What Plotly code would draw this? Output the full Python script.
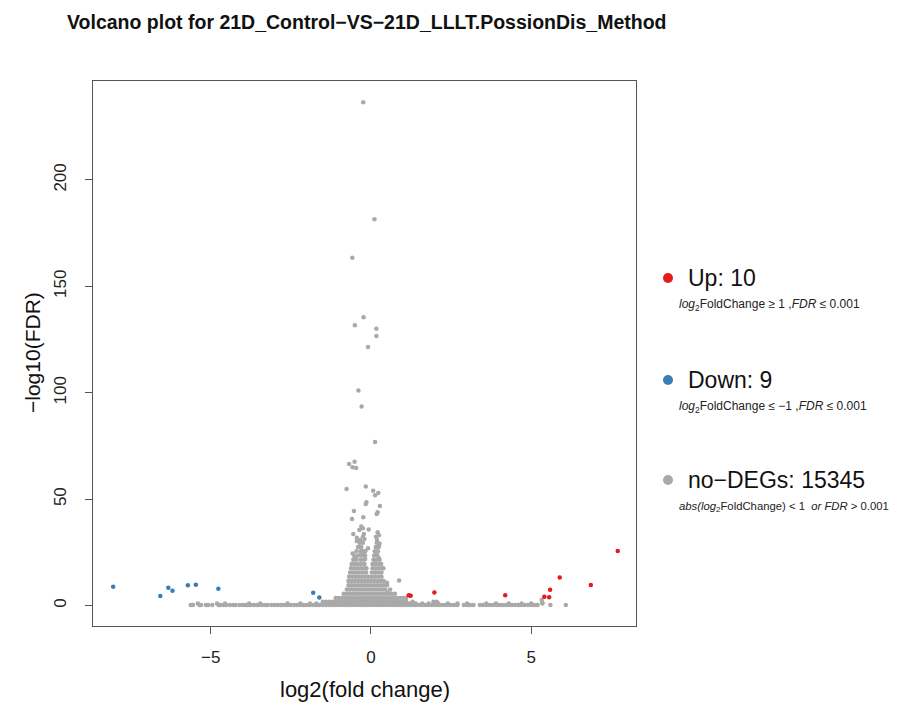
import plotly.graph_objects as go

# ---------------- data ----------------
up_x = [1.18, 1.24, 1.98, 4.19, 5.41, 5.56, 5.59, 5.89, 6.86, 7.70]
up_y = [4.8, 4.6, 6.1, 4.8, 4.2, 3.9, 7.4, 13.2, 9.7, 25.7]

down_x = [-8.04, -6.57, -6.32, -6.19, -5.71, -5.46, -4.76, -1.80, -1.61]
down_y = [8.8, 4.5, 8.4, 7.0, 9.5, 9.8, 7.9, 6.0, 3.8]

# isolated (readable) non-DEG points
ns_out_x = [-0.24, 0.11, -0.58, -0.23, -0.50, 0.17, 0.17, -0.09, -0.39, -0.29, 0.13,
            -0.51, -0.68, -0.57, -0.46, -0.76, -0.16, 0.07, 0.23, 0.13, -0.14, -0.16,
            0.28, -0.53, 0.21, 0.18, -0.59, -0.24, -0.30, -0.25, -0.36, -0.07,
            -0.55, -0.22, -0.44, -0.25, 0.21, 0.25, 0.16, -0.44, -0.33, -0.20, 0.19,
            0.27, 0.25, 0.17, -0.36, -0.17, -0.28, -0.09, -0.57, -0.50, -0.33, -0.22,
            -0.18, 0.17, 0.25, 0.13, 0.39, 0.88, 0.52, 0.50, 5.33, 5.35, 5.60, 6.08]
ns_out_y = [236.5, 181.5, 163.5, 135.5, 131.7, 130.1, 126.7, 121.5, 101.1, 93.6, 76.9,
            67.6, 66.5, 65.0, 64.6, 54.8, 56.0, 54.0, 52.9, 51.8, 48.5, 47.7,
            46.8, 44.4, 43.8, 43.0, 40.7, 41.5, 37.2, 36.3, 35.5, 35.8,
            33.6, 33.6, 31.9, 32.3, 34.4, 33.1, 32.3, 30.3, 30.8, 31.3, 30.8,
            29.2, 28.1, 27.4, 27.6, 25.6, 25.6, 26.9, 24.5, 22.7, 23.7, 23.9,
            21.9, 24.5, 22.2, 21.4, 17.5, 11.8, 6.0, 10.7, 2.6, 1.2, 0.3, 0.3]

# dense non-DEG band near the baseline (x positions per level of -log10(FDR))
ns_row_0_3 = [-5.62, -5.55, -5.35, -5.30, -5.15, -5.08, -4.95, -4.75, -4.70, -4.60,
              -4.52, -4.40, -4.30, -4.22, -4.10, -4.00, -3.92, -3.85, -3.75, -3.65,
              -3.55, -3.50, -3.40, -3.30, -3.22, -3.10, -3.00, -2.90, -2.80, -2.70,
              -2.60, -2.50, -2.40, -2.30, -2.20, -2.10, -2.00, -1.90, -1.80, -1.70,
              -1.60, -1.50, -1.40, -1.30, -1.20, -1.10, -1.00, -0.90, -0.80, -0.70,
              -0.60, -0.50, -0.40, -0.30, -0.20, -0.10, 0.00, 0.10, 0.20, 0.30,
              0.40, 0.50, 0.60, 0.70, 0.80, 0.90, 1.00, 1.10, 1.20, 1.30, 1.40,
              1.50, 1.60, 1.70, 1.80, 1.90, 2.00, 2.10, 2.20, 2.30, 2.40, 2.50,
              2.60, 2.70, 2.90, 3.00, 3.10, 3.20, 3.40, 3.50, 3.60, 3.70, 3.80,
              3.90, 4.00, 4.10, 4.20, 4.30, 4.40, 4.50, 4.60, 4.70, 4.80, 4.90,
              5.00, 5.10, 5.20]
ns_row_1_0 = [-5.40, -4.80, -4.55, -3.80, -3.45, -2.60, -2.20, -1.90, -1.70, -1.50,
              -1.35, -1.20, -1.05, 1.00, 1.20, 1.40, 1.60, 1.80, 2.00, 2.10, 2.40,
              2.70, 3.00, 3.60, 3.90, 4.30, 4.70, 5.00, 5.35]
ns_row_1_8 = [-1.50, -1.40, -1.30, -1.20, -1.10, -1.00, -0.90, -0.80, -0.70, -0.60,
              -0.50, -0.40, -0.30, -0.20, -0.10, 0.00, 0.10, 0.20, 0.30, 0.40, 0.50,
              0.60, 0.70, 0.80, 0.90, 1.00, 1.10, 1.30, 1.95, 2.05]
ns_row_3_5 = [-1.10, -1.00, -0.90, -0.80, -0.70, -0.60, -0.50, -0.40, -0.30, -0.20,
              -0.10, 0.00, 0.10, 0.20, 0.30, 0.40, 0.50, 0.60, 0.70, 0.80, 0.90,
              1.00, 1.10]
ns_row_5_5 = [-0.85, -0.75, -0.65, -0.55, -0.45, -0.35, -0.25, -0.15, -0.05, 0.05,
              0.15, 0.25, 0.35, 0.45, 0.55, 0.65, 0.75]
ns_row_7_5 = [-0.75, -0.65, -0.55, -0.45, -0.35, -0.25, -0.15, -0.05, 0.05, 0.15,
              0.25, 0.35, 0.45, 0.60]
ns_row_9_5 = [-0.70, -0.60, -0.50, -0.40, -0.30, -0.20, -0.10, 0.00, 0.10, 0.20,
              0.30, 0.40, 0.50]
ns_row_11_5 = [-0.70, -0.60, -0.50, -0.40, -0.30, -0.20, -0.10, 0.00, 0.10, 0.20,
               0.30, 0.40]
ns_row_13_5 = [-0.68, -0.58, -0.48, -0.38, -0.28, -0.18, -0.08, 0.03, 0.13, 0.23, 0.33]
ns_row_15_5 = [-0.65, -0.55, -0.45, -0.35, -0.25, -0.15, 0.03, 0.13, 0.23, 0.33]
ns_row_17_5 = [-0.62, -0.52, -0.42, -0.32, -0.22, -0.14, 0.05, 0.15, 0.25, 0.35]
ns_row_19_5 = [-0.60, -0.50, -0.40, -0.30, -0.20, 0.05, 0.15, 0.25, 0.32]
ns_row_21_5 = [-0.55, -0.45, -0.32, -0.22, 0.08, 0.18, 0.27]
ns_row_23_5 = [-0.52, -0.40, -0.28, -0.18, 0.10, 0.20]
ns_row_25_5 = [-0.45, -0.32, -0.20, 0.12, 0.22]
ns_row_27_5 = [-0.40, -0.30, 0.15, 0.24]
ns_row_29_5 = [-0.35, -0.25, 0.18]

ns_rows = [
    (0.3, ns_row_0_3), (1.0, ns_row_1_0), (1.8, ns_row_1_8), (3.5, ns_row_3_5),
    (5.5, ns_row_5_5), (7.5, ns_row_7_5), (9.5, ns_row_9_5), (11.5, ns_row_11_5),
    (13.5, ns_row_13_5), (15.5, ns_row_15_5), (17.5, ns_row_17_5),
    (19.5, ns_row_19_5), (21.5, ns_row_21_5), (23.5, ns_row_23_5),
    (25.5, ns_row_25_5), (27.5, ns_row_27_5), (29.5, ns_row_29_5),
]

x_ticks = [-5, 0, 5]
y_ticks = [0, 50, 100, 150, 200]

legend_labels = ["Up: 10", "Down: 9", "no\u2212DEGs: 15345"]
legend_notes = [
    "<i>log</i><sub>2</sub>FoldChange \u2265 1 ,<i>FDR</i> \u2264 0.001",
    "<i>log</i><sub>2</sub>FoldChange \u2264 \u22121 ,<i>FDR</i> \u2264 0.001",
    "<i>abs(log</i><sub>2</sub>FoldChange) &lt; 1 \u00a0<i>or FDR</i> &gt; 0.001",
]
legend_note_sizes = [12, 12, 11.3]

RED = "#E41A1C"
BLUE = "#377EB8"
GRAY = "#A9A9A9"
legend_colors = [RED, BLUE, GRAY]

# ---------------- figure ----------------
ns_x = list(ns_out_x)
ns_y = list(ns_out_y)
for yv, xs in ns_rows:
    ns_x.extend(xs)
    ns_y.extend([yv] * len(xs))

fig = go.Figure()
fig.add_trace(go.Scatter(x=ns_x, y=ns_y, mode="markers",
                         marker=dict(color=GRAY, size=4.5, line=dict(width=0)),
                         showlegend=False, hoverinfo="x+y"))
fig.add_trace(go.Scatter(x=down_x, y=down_y, mode="markers",
                         marker=dict(color=BLUE, size=4.5, line=dict(width=0)),
                         showlegend=False))
fig.add_trace(go.Scatter(x=up_x, y=up_y, mode="markers",
                         marker=dict(color=RED, size=4.5, line=dict(width=0)),
                         showlegend=False))

OFF = 8  # page body margin in the browser
W, H = 898 - OFF, 704 - OFF
# target screen box: x 93..636, y 81..626
L, T = 93 - OFF, 81 - OFF
R, B = W - (636 - OFF), H - (626 - OFF)
pw, ph = W - L - R, H - T - B

def px(xs):
    return (xs - OFF - L) / pw

def py(ys):
    return (H - B - (ys - OFF)) / ph

FONT = "Liberation Sans, Arial"
axis_common = dict(showgrid=False, zeroline=False, showline=True, mirror=True,
                   linecolor="#555555", linewidth=1, ticks="outside", ticklen=7,
                   tickcolor="#555555",
                   tickfont=dict(family=FONT, size=17, color="#222222"))

fig.update_layout(
    width=W, height=H,
    margin=dict(l=L, r=R, t=T, b=B, autoexpand=False),
    paper_bgcolor="white", plot_bgcolor="white",
    xaxis=dict(range=[-8.67, 8.27], tickvals=x_ticks,
               ticktext=[("\u2212" + str(-v)) if v < 0 else str(v) for v in x_ticks],
               ticklabelstandoff=9, **axis_common),
    yaxis=dict(range=[-9.6, 246.5], tickvals=y_ticks, tickangle=-90,
               ticklabelstandoff=12, **axis_common),
)

ann = []
ann.append(dict(text="<b>Volcano plot for 21D_Control\u2212VS\u221221D_LLLT.PossionDis_Method</b>",
                xref="paper", yref="paper", x=px(65), y=py(22), xanchor="left",
                yanchor="middle", showarrow=False,
                font=dict(family=FONT, size=19.5, color="#111111")))
ann.append(dict(text="log2(fold change)", xref="paper", yref="paper",
                x=px((93 + 636) / 2), y=py(689), xanchor="center", yanchor="middle",
                showarrow=False,
                font=dict(family=FONT, size=22, color="#111111")))
ann.append(dict(text="\u2212log10(FDR)", xref="paper", yref="paper",
                x=px(32), y=py(353), xanchor="center", yanchor="middle",
                textangle=-90, showarrow=False,
                font=dict(family=FONT, size=21, color="#111111")))

dot_y = [278, 380, 480]
note_y = [305, 407, 507]
shapes = []
for lab, note, nsz, col, dy, ny in zip(legend_labels, legend_notes, legend_note_sizes,
                                       legend_colors, dot_y, note_y):
    shapes.append(dict(type="circle", xref="paper", yref="paper",
                       xsizemode="pixel", ysizemode="pixel",
                       xanchor=px(668), yanchor=py(dy),
                       x0=-5, x1=5, y0=-5, y1=5,
                       fillcolor=col, line=dict(width=0)))
    ann.append(dict(text=lab, xref="paper", yref="paper", x=px(686), y=py(dy),
                    xanchor="left", yanchor="middle", showarrow=False,
                    font=dict(family=FONT, size=23, color="#111111")))
    ann.append(dict(text=note, xref="paper", yref="paper", x=px(677), y=py(ny),
                    xanchor="left", yanchor="middle", showarrow=False,
                    font=dict(family=FONT, size=nsz, color="#222222")))

fig.update_layout(annotations=ann, shapes=shapes)
fig.write_html("out.html")
